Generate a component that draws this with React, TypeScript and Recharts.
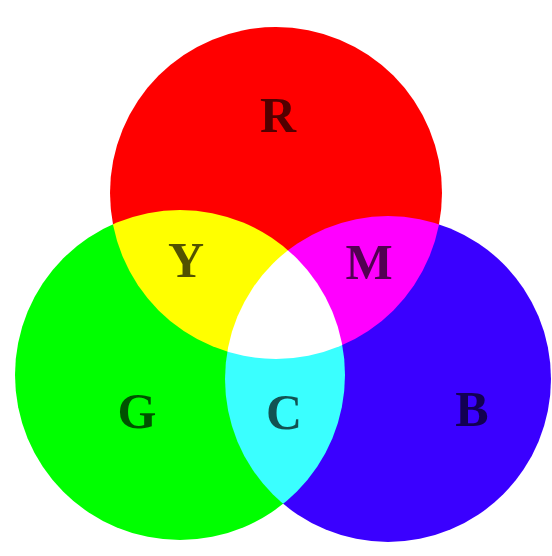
import React from 'react';
import { ScatterChart, Scatter, XAxis, YAxis } from 'recharts';

const circleNames = ['R', 'G', 'B'];
const circleX = [276, 180, 388];
const circleY = [193, 375, 379];
const circleR = [166, 165, 163];
const circleColors = ['#ff0000', '#00ff00', '#3a00ff'];

const labelNames = ['R', 'Y', 'M', 'G', 'C', 'B'];
const labelX = [278, 186, 369, 137, 284, 472];
const labelY = [115, 260, 262, 411, 412, 409];

const W = 552;
const H = 556;

const circleData = circleNames.map((n, i) => ({ name: n, x: circleX[i], y: circleY[i], r: circleR[i], color: circleColors[i] }));
const labelData = labelNames.map((n, i) => ({ name: n, x: labelX[i], y: labelY[i] }));

const CircleShape = (props: any) => {
  const { cx, cy, payload } = props;
  return (
    <circle
      cx={cx}
      cy={cy}
      r={payload.r}
      fill={payload.color}
      style={{ mixBlendMode: 'screen' }}
    />
  );
};

const LabelShape = (props: any) => {
  const { cx, cy, payload } = props;
  return (
    <text
      x={cx}
      y={cy}
      dy="0.34em"
      textAnchor="middle"
      fontFamily="'Liberation Serif', 'DejaVu Serif', serif"
      fontWeight="bold"
      fontSize={50}
      fill="#000"
      fillOpacity={0.68}
    >
      {payload.name}
    </text>
  );
};

export default function App() {
  return (
    <div style={{ position: 'absolute', left: 0, top: 0, width: W, height: H, background: '#fff' }}>
      <div style={{ position: 'absolute', left: 0, top: 0, isolation: 'isolate' }}>
        <ScatterChart width={W} height={H} margin={{ top: 0, right: 0, bottom: 0, left: 0 }}>
          <XAxis type="number" dataKey="x" domain={[0, W]} hide />
          <YAxis type="number" dataKey="y" domain={[0, H]} reversed hide />
          <Scatter data={circleData} shape={CircleShape} isAnimationActive={false} />
        </ScatterChart>
      </div>
      <div style={{ position: 'absolute', left: 0, top: 0 }}>
        <ScatterChart width={W} height={H} margin={{ top: 0, right: 0, bottom: 0, left: 0 }}>
          <XAxis type="number" dataKey="x" domain={[0, W]} hide />
          <YAxis type="number" dataKey="y" domain={[0, H]} reversed hide />
          <Scatter data={labelData} shape={LabelShape} isAnimationActive={false} />
        </ScatterChart>
      </div>
    </div>
  );
}
